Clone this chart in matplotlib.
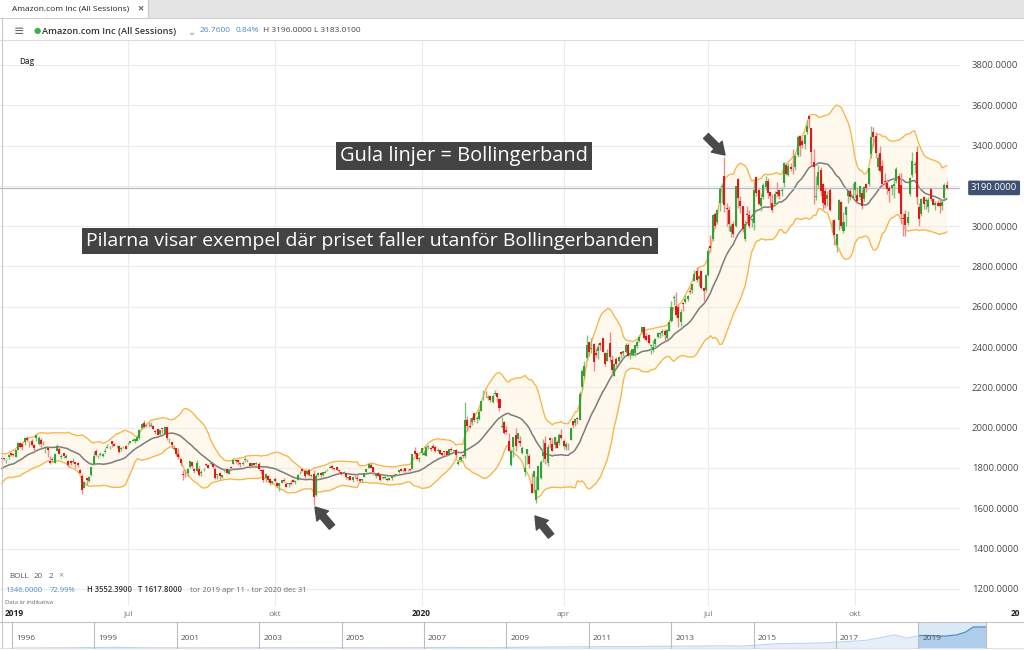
import numpy as np
import pandas as pd
import matplotlib.pyplot as plt
import matplotlib.transforms as mtransforms
from matplotlib.lines import Line2D
from matplotlib.patches import Rectangle
from matplotlib.ticker import FormatStrFormatter

plt.rcParams['font.family'] = ['Open Sans', 'DejaVu Sans']

W, H = 1024, 650

# closes before the first visible day (used only for the 20-day Bollinger warm-up)
warmup_closes = [1686, 1712, 1742, 1762, 1797, 1819, 1765, 1774, 1784, 1766,
                 1773, 1781, 1814, 1814, 1821, 1819, 1837, 1850, 1836, 1847]

# daily OHLC, 2019-04-11 .. 2020-11-27 (one line per month)
opens = [
    1848, 1848, 1843, 1852, 1872, 1868, 1856, 1891, 1926, 1917, 1929, 1950, 1930,
    1933, 1913, 1950, 1918, 1940, 1919, 1900, 1898, 1837, 1840, 1827, 1885, 1893, 1852, 1874, 1851, 1837, 1836, 1832, 1828, 1825, 1790,
    1761, 1699, 1749, 1737, 1763, 1822, 1883, 1853, 1866, 1859, 1877, 1901, 1907, 1933, 1917, 1912, 1911, 1893, 1902, 1910,
    1922, 1925, 1936, 1934, 1934, 1947, 1996, 2025, 2008, 2022, 2010, 2008, 1985, 1991, 1971, 1996, 1970, 2001, 1942, 1930, 1892, 1899,
    1871, 1845, 1770, 1792, 1774, 1806, 1828, 1796, 1783, 1796, 1776, 1793, 1818, 1815, 1819, 1822, 1794, 1766, 1775, 1755, 1784, 1797,
    1770, 1805, 1821, 1838, 1842, 1822, 1822, 1838, 1842, 1824, 1808, 1823, 1821, 1821, 1786, 1790, 1748, 1762, 1746, 1726,
    1747, 1727, 1713, 1727, 1739, 1722, 1720, 1725, 1742, 1728, 1741, 1773, 1796, 1787, 1770, 1788, 1762, 1771, 1665, 1765, 1775, 1763, 1775,
    1788, 1801, 1809, 1801, 1803, 1787, 1779, 1774, 1773, 1751, 1760, 1739, 1757, 1749, 1743, 1739, 1754, 1779, 1801, 1817,
    1804, 1760, 1775, 1763, 1751, 1750, 1747, 1742, 1750, 1766, 1767, 1778, 1795, 1788, 1799, 1794, 1794, 1794, 1883, 1875, 1843,
    1875, 1864, 1860, 1904, 1898, 1910, 1905, 1885, 1889, 1872, 1882, 1886, 1865, 1896, 1885, 1891, 1820, 1840, 1865, 1858, 2040,
    2010, 2030, 2072, 2041, 2041, 2085, 2150, 2163, 2145, 2155, 2126, 2168, 2174, 2142, 2004, 2027, 1987, 1935, 1815,
    1906, 1965, 1946, 1934, 1875, 1778, 1870, 1857, 1722, 1755, 1641, 1693, 1750, 1860, 1926, 1827, 1951, 1921, 1912, 1930, 1922, 1964,
    1932, 1902, 1911, 1937, 2035, 2022, 2044, 2040, 2200, 2255, 2347, 2425, 2389, 2416, 2373, 2380, 2418, 2444, 2373, 2331, 2419,
    2336, 2256, 2340, 2329, 2374, 2373, 2374, 2411, 2367, 2361, 2369, 2404, 2431, 2477, 2500, 2455, 2459, 2404, 2385, 2416,
    2448, 2467, 2468, 2478, 2445, 2478, 2530, 2646, 2603, 2601, 2526, 2621, 2623, 2639, 2678, 2684, 2727, 2780, 2739, 2776, 2691, 2685,
    2757, 2900, 2934, 3058, 3022, 3116, 3192, 3251, 3090, 3080, 2972, 3010, 3000, 3233, 3125, 3098, 2934, 3062, 3055, 3030, 3015, 3244,
    3180, 3101, 3143, 3196, 3224, 3171, 3113, 3108, 3171, 3178, 3173, 3213, 3303, 3253, 3295, 3310, 3294, 3352, 3450, 3423, 3409,
    3467, 3547, 3485, 3319, 3144, 3202, 3278, 3208, 3173, 3136, 3179, 3009, 3031, 2907, 3033, 3120, 2978, 3055, 3149, 3175, 3142,
    3180, 3153, 3146, 3167, 3136, 3210, 3210, 3356, 3467, 3447, 3292, 3363, 3299, 3222, 3212, 3190, 3191, 3198, 3225, 3250, 3202, 3040,
    3062, 3018, 3160, 3252, 3305, 3370, 3095, 3062, 3143, 3123, 3094, 3183, 3134, 3105, 3117, 3117, 3100, 3141, 3205,
]
highs = [
    1849, 1851, 1845, 1870, 1876, 1874, 1889, 1929, 1929, 1922, 1952, 1957, 1935,
    1943, 1921, 1964, 1959, 1949, 1936, 1909, 1903, 1859, 1853, 1874, 1917, 1910, 1867, 1874, 1871, 1838, 1841, 1849, 1830, 1829, 1796,
    1768, 1730, 1752, 1760, 1806, 1885, 1894, 1866, 1880, 1874, 1898, 1921, 1911, 1935, 1925, 1916, 1916, 1904, 1911, 1914,
    1929, 1935, 1947, 1945, 1956, 1991, 2024, 2036, 2017, 2026, 2026, 2012, 1988, 1996, 1990, 1997, 2001, 2002, 1951, 1934, 1914, 1900,
    1897, 1847, 1789, 1794, 1799, 1834, 1831, 1801, 1840, 1812, 1788, 1800, 1826, 1817, 1830, 1825, 1804, 1770, 1779, 1767, 1799, 1799,
    1800, 1808, 1843, 1841, 1842, 1826, 1833, 1853, 1846, 1825, 1824, 1827, 1832, 1830, 1792, 1796, 1770, 1763, 1749, 1737,
    1755, 1728, 1725, 1741, 1750, 1730, 1724, 1739, 1745, 1742, 1770, 1786, 1798, 1793, 1785, 1790, 1771, 1789, 1768, 1781, 1778, 1781, 1792,
    1797, 1813, 1815, 1802, 1806, 1790, 1780, 1786, 1775, 1757, 1761, 1755, 1763, 1763, 1746, 1746, 1777, 1797, 1824, 1825,
    1805, 1773, 1779, 1764, 1755, 1767, 1751, 1750, 1764, 1770, 1770, 1792, 1798, 1793, 1802, 1795, 1795, 1870, 1902, 1875, 1853,
    1899, 1887, 1904, 1914, 1911, 1917, 1907, 1898, 1890, 1878, 1885, 1886, 1895, 1902, 1889, 1895, 1841, 1859, 1869, 2128, 2056,
    2048, 2059, 2074, 2057, 2095, 2136, 2185, 2181, 2164, 2159, 2166, 2185, 2174, 2145, 2053, 2034, 2006, 1975, 1889,
    1954, 1997, 1976, 1960, 1910, 1862, 1893, 1871, 1777, 1786, 1759, 1811, 1841, 1945, 1958, 1919, 1955, 1950, 1956, 1940, 1974, 1993,
    1945, 1928, 1926, 1999, 2035, 2044, 2054, 2181, 2292, 2333, 2462, 2425, 2444, 2420, 2394, 2420, 2425, 2446, 2374, 2391, 2475,
    2362, 2321, 2351, 2357, 2377, 2383, 2419, 2419, 2387, 2392, 2411, 2433, 2462, 2500, 2500, 2469, 2463, 2414, 2436, 2443,
    2476, 2473, 2488, 2489, 2488, 2525, 2627, 2656, 2671, 2610, 2588, 2623, 2656, 2660, 2700, 2715, 2784, 2797, 2756, 2782, 2696, 2765,
    2896, 2955, 3060, 3069, 3083, 3194, 3216, 3344, 3116, 3098, 3018, 3024, 3201, 3241, 3150, 3099, 3031, 3099, 3078, 3040, 3230, 3247,
    3184, 3167, 3214, 3247, 3240, 3172, 3160, 3175, 3217, 3178, 3194, 3318, 3316, 3312, 3314, 3381, 3358, 3451, 3453, 3434, 3452,
    3529, 3552, 3488, 3382, 3250, 3303, 3292, 3213, 3188, 3175, 3188, 3029, 3037, 2962, 3133, 3127, 3069, 3102, 3175, 3188, 3212,
    3224, 3195, 3201, 3183, 3200, 3215, 3288, 3496, 3493, 3465, 3356, 3400, 3329, 3266, 3234, 3198, 3205, 3244, 3292, 3265, 3265, 3064,
    3079, 3074, 3245, 3366, 3323, 3396, 3114, 3139, 3150, 3141, 3143, 3190, 3141, 3126, 3132, 3140, 3135, 3215, 3222,
]
lows = [
    1831, 1841, 1824, 1844, 1860, 1857, 1856, 1889, 1900, 1889, 1913, 1935, 1906,
    1910, 1881, 1936, 1913, 1904, 1914, 1876, 1856, 1820, 1831, 1825, 1883, 1867, 1844, 1850, 1851, 1807, 1817, 1827, 1800, 1807, 1773,
    1672, 1699, 1715, 1730, 1760, 1815, 1857, 1849, 1859, 1856, 1875, 1900, 1894, 1906, 1907, 1900, 1873, 1882, 1899, 1892,
    1914, 1923, 1933, 1926, 1932, 1944, 1995, 1996, 2003, 2001, 2001, 1992, 1968, 1962, 1962, 1974, 1968, 1940, 1926, 1899, 1891, 1858,
    1844, 1812, 1740, 1754, 1759, 1799, 1800, 1776, 1782, 1758, 1758, 1783, 1812, 1800, 1814, 1798, 1746, 1743, 1746, 1749, 1779, 1773,
    1768, 1790, 1818, 1824, 1815, 1806, 1813, 1832, 1831, 1800, 1806, 1806, 1815, 1791, 1772, 1729, 1732, 1728, 1716, 1720,
    1729, 1705, 1686, 1727, 1730, 1705, 1708, 1716, 1730, 1722, 1739, 1770, 1779, 1750, 1765, 1762, 1755, 1618, 1660, 1758, 1757, 1759, 1774,
    1785, 1799, 1795, 1788, 1788, 1774, 1767, 1770, 1747, 1742, 1738, 1731, 1749, 1733, 1732, 1732, 1754, 1778, 1800, 1800,
    1763, 1748, 1759, 1734, 1747, 1746, 1735, 1738, 1742, 1757, 1760, 1777, 1783, 1780, 1782, 1784, 1787, 1794, 1861, 1839, 1832,
    1865, 1864, 1860, 1892, 1886, 1895, 1880, 1880, 1867, 1855, 1866, 1858, 1865, 1884, 1872, 1850, 1817, 1830, 1848, 1850, 1985,
    2000, 2015, 2026, 2024, 2039, 2084, 2137, 2153, 2138, 2125, 2124, 2161, 2126, 2081, 1997, 1970, 1970, 1882, 1812,
    1856, 1882, 1923, 1911, 1870, 1762, 1819, 1801, 1675, 1680, 1626, 1693, 1745, 1832, 1820, 1812, 1900, 1885, 1900, 1899, 1913, 1944,
    1893, 1890, 1889, 1937, 1998, 2008, 2018, 2038, 2189, 2245, 2337, 2356, 2371, 2279, 2350, 2341, 2385, 2376, 2306, 2329, 2325,
    2258, 2256, 2307, 2321, 2344, 2355, 2373, 2355, 2341, 2354, 2356, 2395, 2425, 2466, 2440, 2430, 2414, 2367, 2378, 2399,
    2445, 2445, 2454, 2430, 2437, 2479, 2525, 2609, 2550, 2499, 2503, 2577, 2620, 2630, 2663, 2670, 2727, 2722, 2703, 2688, 2630, 2673,
    2754, 2872, 2926, 2990, 3013, 3075, 3113, 3068, 3001, 2978, 2945, 2948, 2997, 3092, 3066, 2970, 2925, 3020, 2993, 2997, 2983, 3148,
    3104, 3075, 3136, 3178, 3141, 3101, 3070, 3100, 3147, 3136, 3152, 3193, 3256, 3250, 3275, 3257, 3280, 3343, 3349, 3386, 3384,
    3456, 3486, 3303, 3111, 3130, 3185, 3149, 3083, 3091, 3100, 3074, 2972, 2905, 2871, 2982, 2992, 2965, 2999, 3117, 3130, 3136,
    3140, 3115, 3132, 3086, 3123, 3170, 3198, 3339, 3400, 3340, 3281, 3268, 3193, 3192, 3160, 3121, 3156, 3142, 3215, 3161, 3012, 2950,
    2950, 3004, 3150, 3244, 3264, 3112, 3000, 3050, 3085, 3085, 3072, 3125, 3105, 3081, 3098, 3065, 3080, 3135, 3183,
]
closes = [
    1844, 1843, 1845, 1863, 1865, 1862, 1887, 1924, 1902, 1902, 1951, 1938, 1927,
    1912, 1901, 1962, 1951, 1921, 1918, 1900, 1890, 1823, 1840, 1871, 1908, 1869, 1859, 1858, 1860, 1815, 1823, 1836, 1819, 1816, 1775,
    1693, 1730, 1739, 1754, 1804, 1861, 1864, 1855, 1870, 1870, 1886, 1901, 1909, 1918, 1911, 1914, 1878, 1898, 1904, 1894,
    1922, 1934, 1939, 1943, 1952, 1988, 2017, 2001, 2011, 2021, 2010, 1992, 1978, 1965, 1986, 1994, 2001, 1950, 1943, 1912, 1899, 1867,
    1855, 1823, 1765, 1788, 1793, 1833, 1808, 1785, 1824, 1763, 1776, 1793, 1816, 1801, 1824, 1805, 1750, 1769, 1762, 1764, 1786, 1776,
    1790, 1801, 1841, 1834, 1831, 1821, 1823, 1844, 1839, 1808, 1823, 1817, 1822, 1794, 1785, 1742, 1768, 1740, 1725, 1736,
    1736, 1713, 1724, 1740, 1733, 1706, 1722, 1720, 1732, 1736, 1767, 1777, 1787, 1758, 1786, 1766, 1762, 1655, 1761, 1777, 1763, 1780, 1777,
    1791, 1805, 1802, 1796, 1788, 1786, 1772, 1778, 1753, 1755, 1739, 1753, 1753, 1746, 1735, 1746, 1774, 1797, 1819, 1801,
    1782, 1770, 1761, 1740, 1752, 1750, 1739, 1749, 1760, 1761, 1769, 1791, 1784, 1792, 1787, 1793, 1789, 1869, 1870, 1847, 1848,
    1898, 1875, 1903, 1907, 1892, 1901, 1883, 1891, 1869, 1862, 1878, 1865, 1892, 1887, 1885, 1862, 1828, 1853, 1858, 2040, 2009,
    2004, 2050, 2040, 2050, 2079, 2134, 2151, 2160, 2150, 2135, 2156, 2170, 2153, 2096, 2009, 1973, 1980, 1884, 1884,
    1954, 1909, 1976, 1924, 1901, 1801, 1892, 1821, 1677, 1785, 1689, 1808, 1830, 1881, 1846, 1903, 1940, 1886, 1955, 1900, 1964, 1950,
    1908, 1919, 1907, 1998, 2012, 2043, 2043, 2169, 2283, 2308, 2408, 2375, 2394, 2328, 2363, 2399, 2410, 2376, 2314, 2373, 2350,
    2286, 2316, 2318, 2351, 2368, 2380, 2409, 2357, 2368, 2389, 2410, 2426, 2449, 2498, 2447, 2437, 2422, 2410, 2401, 2442,
    2471, 2472, 2478, 2461, 2483, 2524, 2601, 2647, 2558, 2545, 2573, 2615, 2641, 2654, 2675, 2714, 2764, 2734, 2755, 2693, 2680, 2759,
    2879, 2890, 3057, 3000, 3081, 3183, 3200, 3104, 3084, 3009, 3000, 2962, 3197, 3138, 3100, 2987, 3009, 3055, 3000, 3034, 3180, 3165,
    3112, 3139, 3205, 3225, 3167, 3148, 3081, 3162, 3161, 3148, 3182, 3312, 3260, 3297, 3285, 3307, 3346, 3442, 3400, 3402, 3451,
    3499, 3531, 3368, 3295, 3150, 3269, 3175, 3116, 3103, 3156, 3078, 3009, 2955, 2960, 3129, 3000, 3020, 3095, 3174, 3145, 3149,
    3221, 3125, 3199, 3100, 3196, 3191, 3287, 3443, 3444, 3364, 3339, 3273, 3207, 3217, 3185, 3176, 3204, 3207, 3286, 3163, 3060, 3036,
    3004, 3048, 3241, 3322, 3311, 3143, 3035, 3137, 3110, 3129, 3131, 3136, 3105, 3117, 3099, 3098, 3118, 3205, 3190,
]

market_holidays = ['2019-04-19', '2019-05-27', '2019-07-04', '2019-09-02', '2019-11-28',
                   '2019-12-25', '2020-01-01', '2020-01-20', '2020-02-17', '2020-04-10',
                   '2020-05-25', '2020-07-03', '2020-09-07', '2020-11-26']
last_price = 3190.0
month_names = {1: None, 4: 'apr', 7: 'jul', 10: 'okt'}

# long-range navigator (year, price)
nav_years = [1997.4, 1998.0, 1998.5, 1999.0, 1999.9, 2000.5, 2001.0, 2001.8, 2002.5, 2003.5,
             2004.0, 2005.0, 2006.0, 2007.0, 2007.9, 2008.9, 2009.9, 2010.9, 2011.5, 2012.5,
             2013.5, 2014.5, 2015.0, 2015.9, 2016.5, 2017.0, 2017.5, 2018.0, 2018.7, 2018.98,
             2019.3, 2019.5, 2019.9, 2020.2, 2020.4, 2020.6, 2020.9]
nav_price = [2, 5, 20, 60, 100, 40, 15, 10, 18, 45, 50, 45, 38, 40, 90, 50, 135, 180, 200, 230,
             280, 330, 300, 675, 720, 800, 980, 1170, 2000, 1500, 1900, 1900, 1800, 2000, 2400,
             3200, 3190]
nav_labels = ['1996', '1999', '2001', '2003', '2005', '2007', '2009', '2011', '2013', '2015', '2017', '2019']

n = len(closes)
assert len(opens) == len(highs) == len(lows) == n, (len(opens), len(highs), len(lows), n)
dates = pd.bdate_range('2019-04-11', '2020-11-27')
dates = dates[~dates.isin(pd.to_datetime(market_holidays))]
assert len(dates) == n, (len(dates), n)

o = np.array(opens, float)
h = np.array(highs, float)
l = np.array(lows, float)
c = np.array(closes, float)
x = np.arange(n)

allc = pd.Series(warmup_closes + closes, dtype=float)
mid = allc.rolling(20).mean().to_numpy()[-n:]
sd = allc.rolling(20).std(ddof=0).to_numpy()[-n:]
upper = mid + 2 * sd
lower = mid - 2 * sd

fig = plt.figure(figsize=(W / 100, H / 100), dpi=100)


def fx(px):
    return px / W


def fy(py):
    return 1 - py / H


def ftext(px, py, s, **kw):
    kw.setdefault('va', 'center')
    return fig.text(fx(px), fy(py), s, **kw)


ax = fig.add_axes([0, fy(606), fx(960), fy(40) - fy(606)])
ax.set_xlim(-0.8, 417.8)
ax.set_ylim(1115, 3924)
for s in ax.spines.values():
    s.set_visible(False)

ax.set_yticks(np.arange(1200, 3801, 200))
ax.yaxis.tick_right()
ax.yaxis.set_major_formatter(FormatStrFormatter('%.4f'))
ax.tick_params(axis='y', length=0, pad=8.5, labelsize=6.8, labelcolor='#4a4a4a')
ax.grid(axis='y', color='#ececec', lw=0.8, zorder=0)

# quarter starts
qpos, qlab = [], []
for i in range(1, n):
    if dates[i].month != dates[i - 1].month and dates[i].month in month_names:
        qpos.append(i)
        qlab.append(month_names[dates[i].month] or str(dates[i].year))
ax.set_xticks(qpos)
ax.tick_params(axis='x', length=0, labelbottom=False)
ax.grid(axis='x', color='#ececec', lw=0.8, zorder=0)

# Bollinger band
ax.fill_between(x, lower, upper, color='#fff8ec', lw=0, zorder=1)
ax.plot(x, upper, color='#f6b84e', lw=1.0, zorder=2)
ax.plot(x, lower, color='#f6b84e', lw=1.0, zorder=2)
ax.plot(x, mid, color='#7c7c7c', lw=1.1, zorder=2)

ax.axhline(last_price, color='#b3bac8', lw=0.9, zorder=2.5)

# candles
rising = c >= o
body_col = np.where(rising, '#35a035', '#e01818')
wick_col = np.where(rising, '#7cc67c', '#ee8a8a')
ax.vlines(x, l, h, colors=wick_col, lw=1.0, zorder=3)
ax.bar(x, np.maximum(np.abs(c - o), 3), bottom=np.minimum(o, c), width=0.88,
       color=body_col, lw=0, zorder=4)

# price label on the axis
blend = mtransforms.blended_transform_factory(ax.transAxes, ax.transData)
ax.text(1 + 11 / 960, last_price, '%.4f' % last_price, transform=blend, ha='left', va='center',
        fontsize=6.8, color='white',
        bbox=dict(boxstyle='round,pad=0.3,rounding_size=0.15', fc='#3e5171', ec='none'))

# time labels under the chart
tb = mtransforms.blended_transform_factory(ax.transData, fig.transFigure)
for p, s in zip(qpos, qlab):
    bold = s.isdigit()
    ax.text(p, fy(614), s, transform=tb, ha='center', va='center', fontsize=6,
            color='#222' if bold else '#777', fontweight='bold' if bold else 'normal')
ftext(5, 614, str(dates[0].year), fontsize=6, fontweight='bold', color='#222')
ftext(1011, 614, '20', fontsize=6, fontweight='bold', color='#222')

# annotation boxes
box = dict(boxstyle='square,pad=0.2', fc='#434343', ec='none')
ftext(464, 156, 'Gula linjer = Bollingerband', ha='center', fontsize=14.4, color='white', bbox=box)
ftext(370, 241, 'Pilarna visar exempel där priset faller utanför Bollingerbanden', ha='center',
      fontsize=14.0, color='white', bbox=box)


def block_arrow(tail, tip):
    fig.add_artist(plt.Annotation(
        '', xy=(tip[0], H - tip[1]), xytext=(tail[0], H - tail[1]),
        xycoords='figure pixels', textcoords='figure pixels',
        arrowprops=dict(arrowstyle='simple,head_length=0.85,head_width=1.1,tail_width=0.5',
                        color='#4a4a4a', shrinkA=0, shrinkB=0, mutation_scale=10)))


block_arrow((332, 527), (315, 507))
block_arrow((551, 536), (535, 516))
block_arrow((706, 136), (725, 155))

# header
fig.add_artist(Rectangle((0, fy(18)), 1, fy(0) - fy(18), transform=fig.transFigure, fc='#e4e4e4', ec='none'))
fig.add_artist(Rectangle((0, fy(18)), fx(148), fy(0) - fy(18), transform=fig.transFigure, fc='white', ec='none'))
fig.add_artist(Line2D([fx(148), fx(148)], [fy(0), fy(18)], transform=fig.transFigure, color='#c9c9c9', lw=0.8))
fig.add_artist(Line2D([0, 1], [fy(18), fy(18)], transform=fig.transFigure, color='#d0d0d0', lw=0.8))
fig.add_artist(Line2D([0, 1], [fy(40), fy(40)], transform=fig.transFigure, color='#dcdcdc', lw=0.8))
fig.add_artist(Line2D([fx(1.5), fx(1.5)], [fy(18), fy(648)], transform=fig.transFigure, color='#c8c8c8', lw=0.8))
ftext(12, 9, 'Amazon.com Inc (All Sessions)', fontsize=6, color='#222')
ftext(137, 9, '×', fontsize=8, color='#666', fontweight='bold')
ftext(14, 31, '≡', fontsize=9, color='#666')
ftext(34, 31, '●', fontsize=6, color='#3cb043', family='DejaVu Sans')
ftext(42, 31, 'Amazon.com Inc (All Sessions)', fontsize=6.7, color='#333', fontweight='semibold')
ftext(188, 32, '⌄', fontsize=7, color='#888', family='DejaVu Sans')
ftext(200, 31, '26.7600', fontsize=6, color='#4a8ccc')
ftext(236, 31, '0.84%', fontsize=6, color='#4a8ccc')
ftext(263, 31, 'H 3196.0000 L 3183.0100', fontsize=6, color='#444')
ftext(19, 62, 'Dag', fontsize=5.8, color='#333', fontweight='semibold')

# indicator legend
ftext(9, 576, 'BOLL', fontsize=5.8, color='#555')
ftext(34, 576, '20', fontsize=5.8, color='#555')
ftext(49, 576, '2', fontsize=5.8, color='#555')
ftext(58, 576, '×', fontsize=6.5, color='#888')
ftext(5, 590, '1346.0000', fontsize=5.5, color='#4a8ccc')
ftext(50, 590, '72.99%', fontsize=5.5, color='#4a8ccc')
ftext(87, 590, 'H 3552.3900', fontsize=5.5, color='#333', fontweight='semibold')
ftext(138, 590, 'T 1617.8000', fontsize=5.5, color='#333', fontweight='semibold')
ftext(190, 590, 'tor 2019 apr 11 - tor 2020 dec 31', fontsize=5.5, color='#666')
ftext(5, 603, 'Data är indikativa', fontsize=4.2, color='#666')

# navigator
nav = fig.add_axes([0, fy(648), 1, fy(622) - fy(648)])
nav.set_xlim(1997.03, 1997.03 + W / 41.3)
nav.set_ylim(0, 3960)
nav.axis('off')
nav.fill_between(nav_years, 0, nav_price, color='#e6eff9', lw=0)
nav.plot(nav_years, nav_price, color='#bcd5ee', lw=0.8)
hl0, hl1 = 1997.03 + 918 / 41.3, 1997.03 + 986 / 41.3
nav.add_patch(Rectangle((hl0, 0), hl1 - hl0, 3960, fc='#dbe8f6', ec='none', zorder=0.5))
clip = Rectangle((hl0, 0), hl1 - hl0, 3960, transform=nav.transData, fc='none', ec='none')
nav.add_patch(clip)
f = nav.fill_between(nav_years, 0, nav_price, color='#aecdea', lw=0, zorder=1)
f.set_clip_path(clip)
ln, = nav.plot(nav_years, nav_price, color='#4f8fd0', lw=0.9, zorder=2)
ln.set_clip_path(clip)
fig.add_artist(Line2D([0, 1], [fy(622), fy(622)], transform=fig.transFigure, color='#c4c4c4', lw=0.8))
fig.add_artist(Line2D([0, 1], [fy(648), fy(648)], transform=fig.transFigure, color='#e0e0e0', lw=0.8))
for k, s in enumerate(nav_labels):
    px = 12 + k * 82.4
    fig.add_artist(Line2D([fx(px), fx(px)], [fy(622), fy(648)], transform=fig.transFigure, color='#bdbdbd', lw=0.8))
    ftext(px + 4, 639, s, fontsize=6, color='#555')
fig.add_artist(Line2D([fx(986), fx(986)], [fy(622), fy(648)], transform=fig.transFigure, color='#bdbdbd', lw=0.8))

fig.savefig('out.png', dpi=100)
